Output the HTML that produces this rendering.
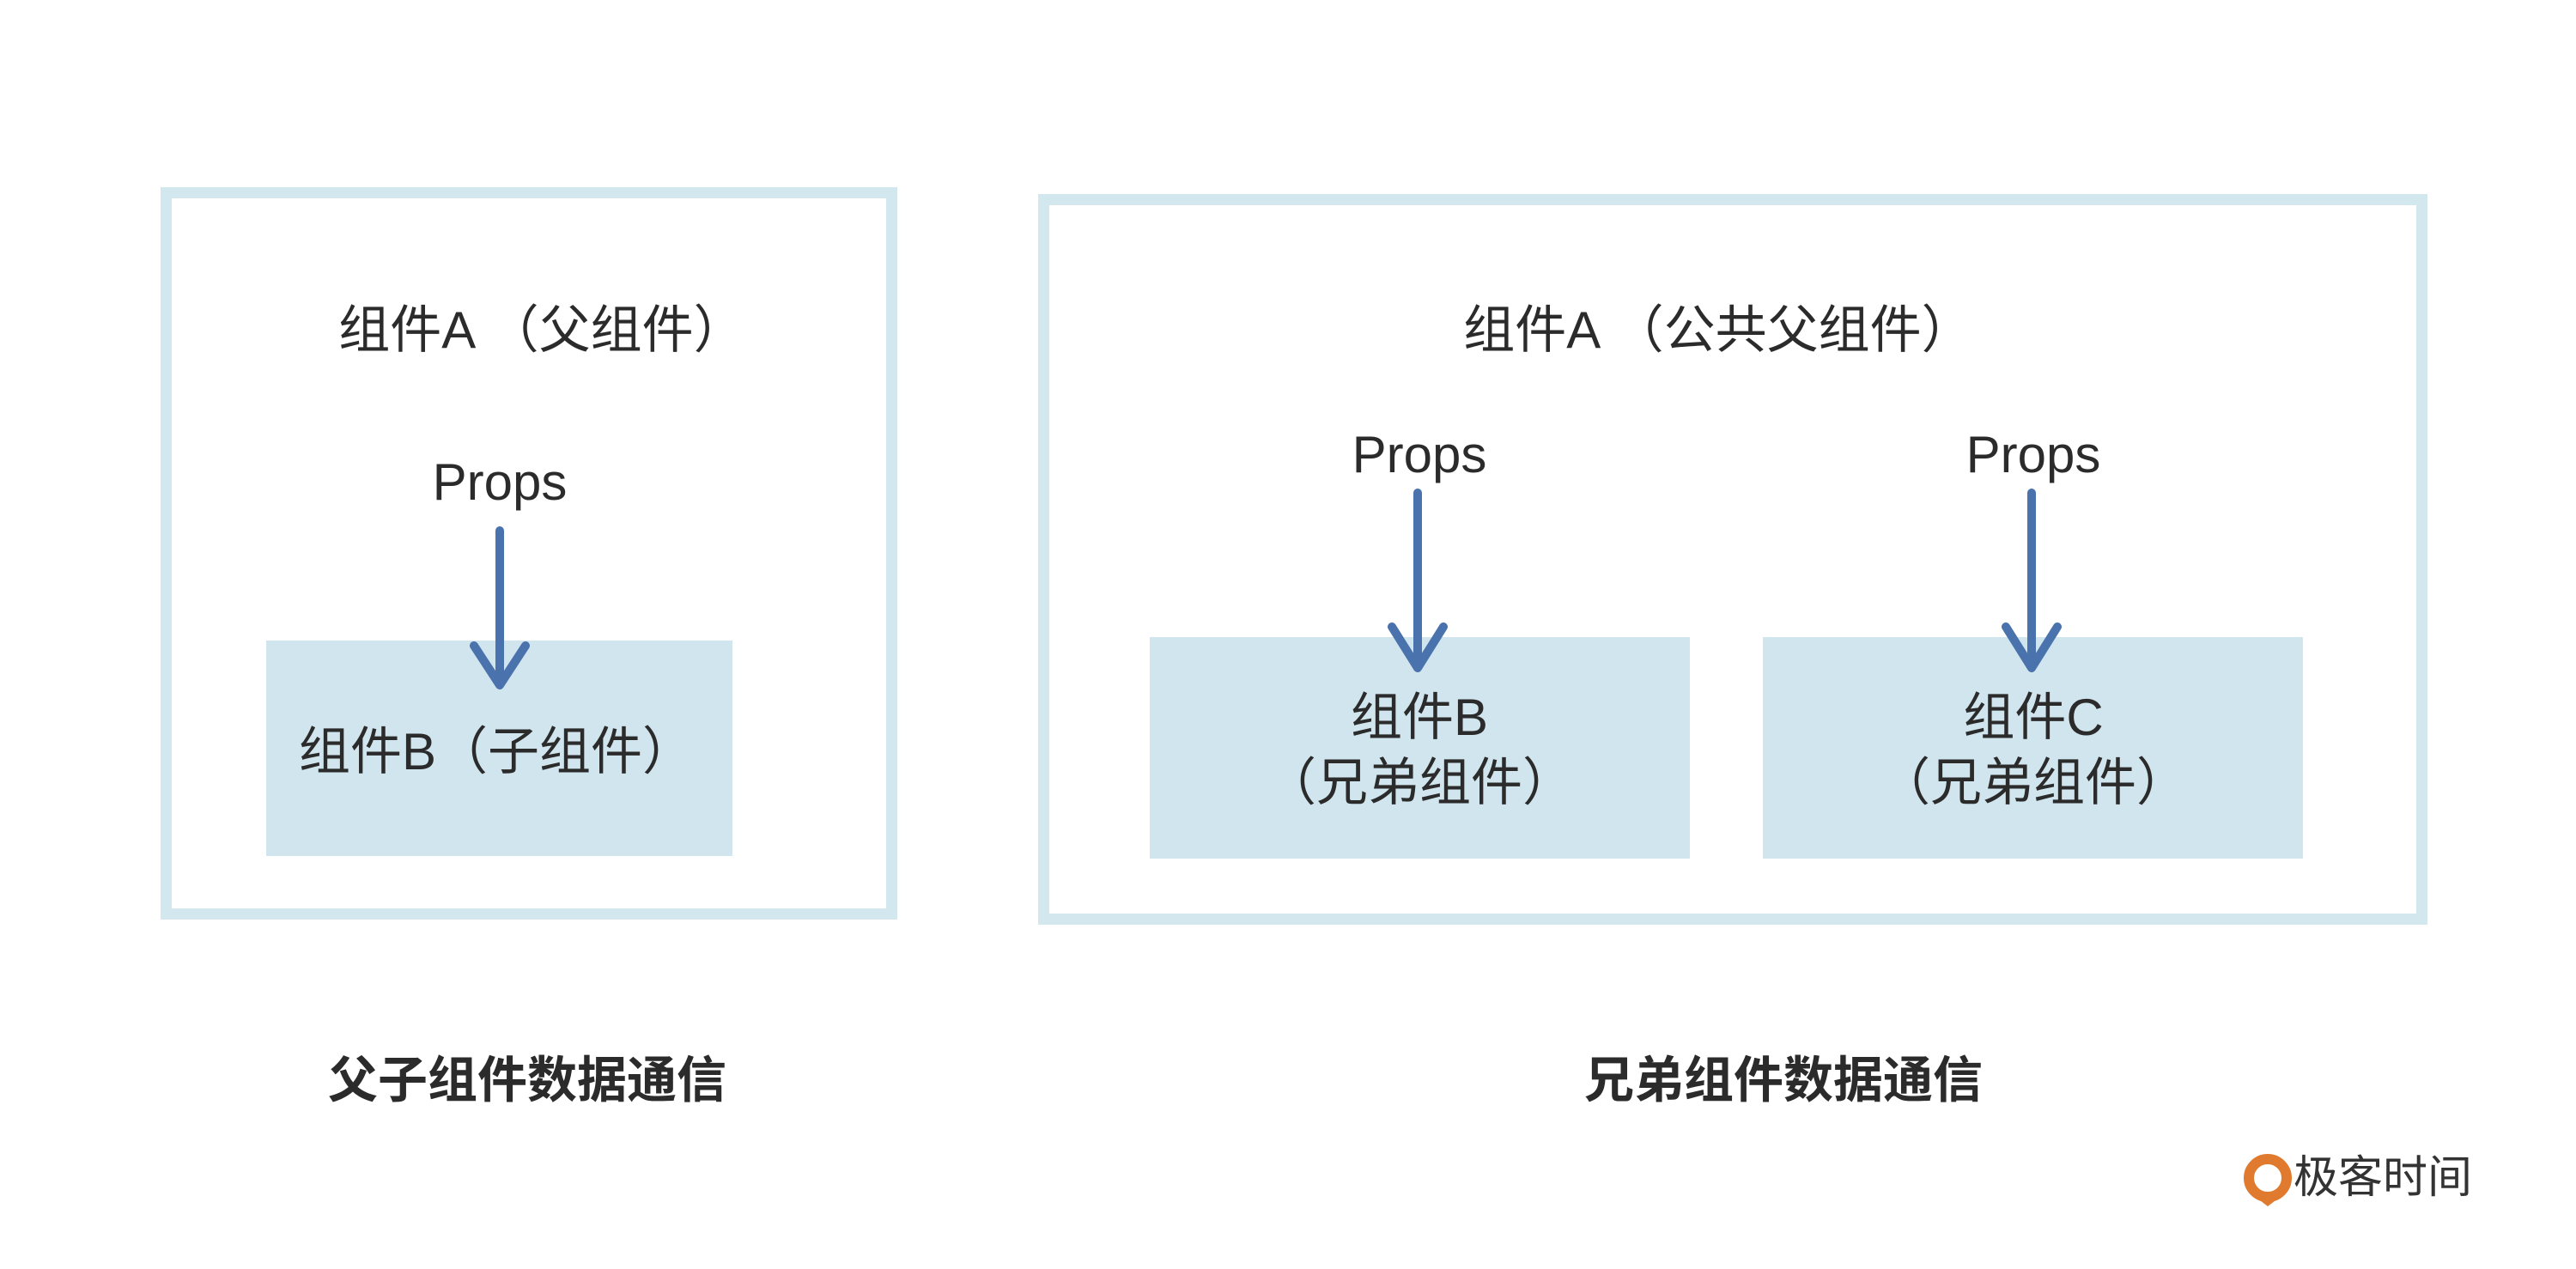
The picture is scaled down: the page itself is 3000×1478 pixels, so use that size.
<!DOCTYPE html>
<html><head><meta charset="utf-8"><style>
html,body{margin:0;padding:0;background:#fff;}
body{width:3000px;height:1478px;position:relative;overflow:hidden;font-family:"Liberation Sans","Noto Sans CJK SC",sans-serif;color:#2b2b2b;}
.box{position:absolute;border:13px solid #d3e7ef;box-sizing:border-box;}
.fill{position:absolute;background:#d0e5ee;}
.t{position:absolute;white-space:nowrap;font-size:60px;line-height:70px;text-align:center;transform:translate(-50%,-50%);}
.b{font-weight:bold;font-size:58px;}
</style></head><body>
<div class="box" style="left:187px;top:218px;width:858px;height:853px;"></div>
<div class="fill" style="left:310px;top:746px;width:543px;height:251px;"></div>
<div class="box" style="left:1209px;top:226px;width:1618px;height:851px;"></div>
<div class="fill" style="left:1339px;top:742px;width:629px;height:258px;"></div>
<div class="fill" style="left:2053px;top:742px;width:629px;height:258px;"></div>

<div class="t" style="left:631px;top:385px;">组件A （父组件）</div>
<div class="t" style="left:582px;top:562px;">Props</div>
<div class="t" style="left:578px;top:876px;">组件B（子组件）</div>

<div class="t" style="left:2001px;top:385px;">组件A （公共父组件）</div>
<div class="t" style="left:1653px;top:530px;">Props</div>
<div class="t" style="left:2368px;top:530px;">Props</div>
<div class="t" style="left:1653px;top:836px;">组件B</div>
<div class="t" style="left:1653px;top:912px;">（兄弟组件）</div>
<div class="t" style="left:2368px;top:836px;">组件C</div>
<div class="t" style="left:2368px;top:912px;">（兄弟组件）</div>

<div class="t b" style="left:614px;top:1259px;">父子组件数据通信</div>
<div class="t b" style="left:2077px;top:1259px;">兄弟组件数据通信</div>

<svg style="position:absolute;left:0;top:0" width="3000" height="1478">
<g stroke="#4a72ad" stroke-width="10" fill="none" stroke-linecap="round" stroke-linejoin="round">
<path d="M582 618 L582 798 M552 752 L582 798 L612 752"/>
<path d="M1651 574 L1651 778 M1621 730 L1651 778 L1681 730"/>
<path d="M2366 574 L2366 778 M2336 730 L2366 778 L2396 730"/>
</g>
<circle cx="2641" cy="1372" r="22" fill="none" stroke="#e07a2e" stroke-width="12"/>
<path d="M2628 1395 L2654 1395 L2641 1405 Z" fill="#e07a2e"/>
</svg>
<div class="t" style="left:2775px;top:1372px;font-size:52px;color:#333;">极客时间</div>
</body></html>
